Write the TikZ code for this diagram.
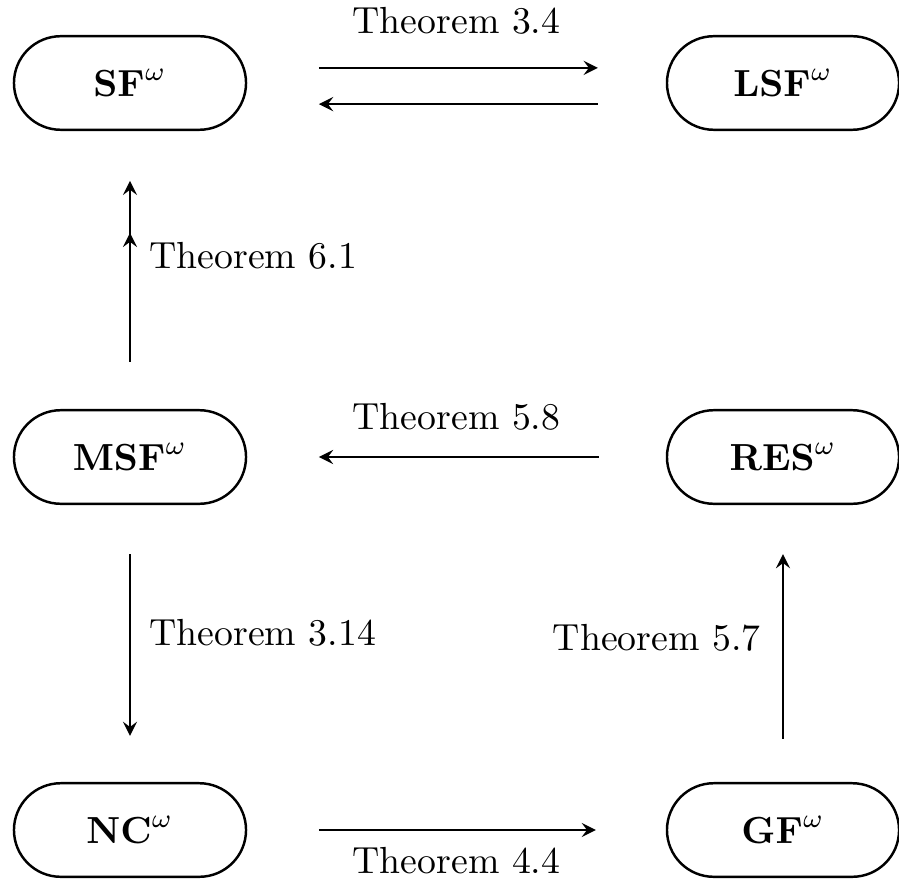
\documentclass[tikz,border=0pt]{standalone}
\usetikzlibrary{positioning}
\tikzset{>=stealth}

\begin{document}
\begin{tikzpicture}[x=0.265pt,y=-0.265pt,
  family/.style={draw,line width=0.65pt,minimum width=61.5pt,minimum height=24.8pt,
    rounded corners=12.4pt,inner sep=0pt},
  implies/.style={->,line width=0.65pt},
  thm/.style={font=\normalsize}]
\useasboundingbox (0,0) rectangle (899,881);
% the six classes
\node[family] (SF)  at (130,83)  {$\mathbf{SF}^{\omega}$};
\node[family] (LSF) at (783,83)  {$\mathbf{LSF}^{\omega}$};
\node[family] (MSF) at (130,457) {$\mathbf{MSF}^{\omega}$};
\node[family] (RES) at (783,457) {$\mathbf{RES}^{\omega}$};
\node[family] (NC)  at (130,830) {$\mathbf{NC}^{\omega}$};
\node[family] (GF)  at (783,830) {$\mathbf{GF}^{\omega}$};
% top row
\draw[implies,shorten <=19pt,shorten >=18pt] ([yshift=4pt]SF.east) -- ([yshift=4pt]LSF.west)
  node[thm,midway,above=5.3pt] (t34) {Theorem 3.4};
\draw[implies,shorten <=18pt,shorten >=19pt] ([yshift=-5.6pt]LSF.west) -- ([yshift=-5.6pt]SF.east);
% left column
\draw[implies,shorten <=12.5pt,shorten >=13.2pt] (MSF) -- (SF)
  node[thm,pos=0.55,right=1.5pt] (t61) {Theorem 6.1};
\draw[implies,shorten <=12.5pt,shorten >=27pt] (MSF) -- (SF);
\draw[implies,shorten <=13pt,shorten >=12.2pt] (MSF) -- (NC)
  node[thm,pos=0.46,right=1.5pt] (t314) {Theorem 3.14};
% middle row
\draw[implies,shorten <=17.8pt,shorten >=19pt] (RES) -- (MSF)
  node[thm,midway,above=3.3pt] (t58) {Theorem 5.8};
% right column
\draw[implies,shorten <=11.4pt,shorten >=13pt] (GF) -- (RES)
  node[thm,pos=0.52,left=2.3pt] (t57) {Theorem 5.7};
% bottom row
\draw[implies,shorten <=19pt,shorten >=18.5pt] (NC) -- (GF)
  node[thm,midway,below=1pt] (t44) {Theorem 4.4};
\end{tikzpicture}
\end{document}
